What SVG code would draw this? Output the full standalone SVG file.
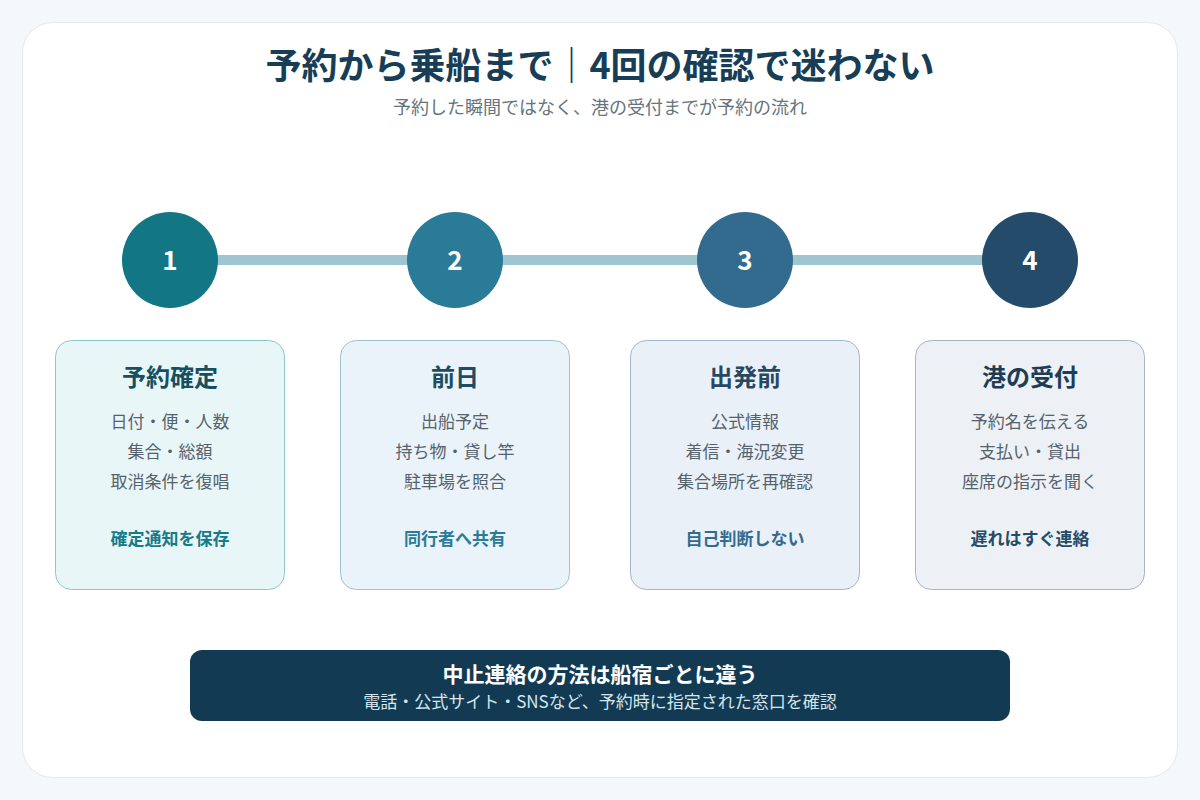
<svg xmlns="http://www.w3.org/2000/svg" width="1200" height="800" viewBox="0 0 1200 800">
<defs>
<style>
text{font-family:"Noto Sans CJK JP","Noto Sans",sans-serif;text-anchor:middle}
.title{font-size:36px;font-weight:700;fill:#173e56}
.sub{font-size:18px;fill:#66747e}
.num{font-size:26px;font-weight:700;fill:#fff}
.ct{font-size:24px;font-weight:700}
.body{font-size:17px;fill:#55626c}
.foot{font-size:17px;font-weight:700}
.bt{font-size:21px;font-weight:700;fill:#fff}
.bs{font-size:17px;fill:#d5e5ee}
</style>
</defs>
<rect width="1200" height="800" fill="#f4f8fb"/>
<rect x="22.5" y="22.5" width="1155" height="755" rx="30" fill="#ffffff" stroke="#e2e9ef"/>
<text class="title" x="600" y="79">予約から乗船まで｜4回の確認で迷わない</text>
<text class="sub" x="600" y="114">予約した瞬間ではなく、港の受付までが予約の流れ</text>
<g id="connectors">
<line x1="170" y1="260" x2="1030" y2="260" stroke="#9fc5d0" stroke-width="10"/>
</g>
<g id="step1">
<circle cx="170" cy="260" r="48" fill="#137685"/>
<text class="num" x="170" y="270">1</text>
<rect x="55.5" y="340.5" width="229" height="249" rx="16" fill="#e8f6f8" stroke="#8ec6cc"/>
<text class="ct" x="170" y="386" fill="#16505f">予約確定</text>
<text class="body" x="170" y="428">日付・便・人数</text>
<text class="body" x="170" y="458">集合・総額</text>
<text class="body" x="170" y="488">取消条件を復唱</text>
<text class="foot" x="170" y="545" fill="#167b88">確定通知を保存</text>
</g>
<g id="step2">
<circle cx="455" cy="260" r="48" fill="#2a7b98"/>
<text class="num" x="455" y="270">2</text>
<rect x="340.5" y="340.5" width="229" height="249" rx="16" fill="#eaf3f9" stroke="#9fc0d2"/>
<text class="ct" x="455" y="386" fill="#1d4d62">前日</text>
<text class="body" x="455" y="428">出船予定</text>
<text class="body" x="455" y="458">持ち物・貸し竿</text>
<text class="body" x="455" y="488">駐車場を照合</text>
<text class="foot" x="455" y="545" fill="#2a7b98">同行者へ共有</text>
</g>
<g id="step3">
<circle cx="745" cy="260" r="48" fill="#336b8f"/>
<text class="num" x="745" y="270">3</text>
<rect x="630.5" y="340.5" width="229" height="249" rx="16" fill="#eaf0f8" stroke="#a2b5ca"/>
<text class="ct" x="745" y="386" fill="#264863">出発前</text>
<text class="body" x="745" y="428">公式情報</text>
<text class="body" x="745" y="458">着信・海況変更</text>
<text class="body" x="745" y="488">集合場所を再確認</text>
<text class="foot" x="745" y="545" fill="#336b8f">自己判断しない</text>
</g>
<g id="step4">
<circle cx="1030" cy="260" r="48" fill="#244b69"/>
<text class="num" x="1030" y="270">4</text>
<rect x="915.5" y="340.5" width="229" height="249" rx="16" fill="#edf1f5" stroke="#a7b4c1"/>
<text class="ct" x="1030" y="386" fill="#1e3d55">港の受付</text>
<text class="body" x="1030" y="428">予約名を伝える</text>
<text class="body" x="1030" y="458">支払い・貸出</text>
<text class="body" x="1030" y="488">座席の指示を聞く</text>
<text class="foot" x="1030" y="545" fill="#244b69">遅れはすぐ連絡</text>
</g>
<g id="notice">
<rect x="190" y="650" width="820" height="71" rx="12" fill="#123a52"/>
<text class="bt" x="600" y="682">中止連絡の方法は船宿ごとに違う</text>
<text class="bs" x="600" y="708">電話・公式サイト・SNSなど、予約時に指定された窓口を確認</text>
</g>
</svg>
